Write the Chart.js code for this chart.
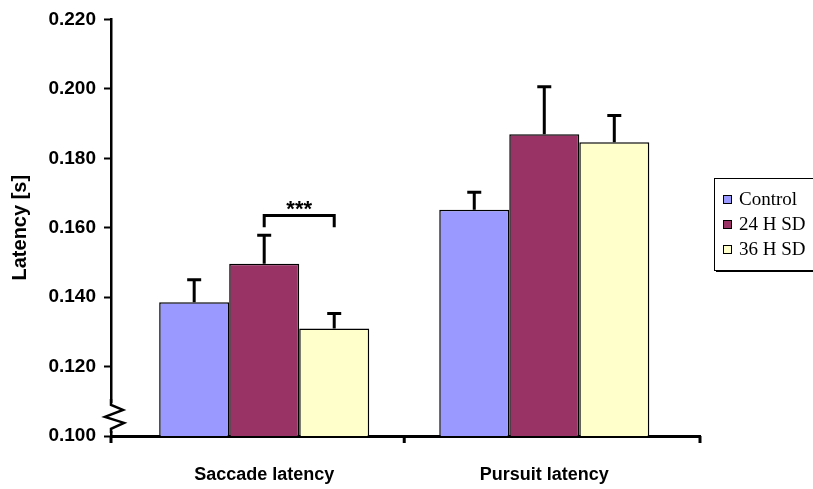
<!DOCTYPE html>
<html lang="en">
<head>
    <meta charset="UTF-8">
    <title>Latency</title>
    <script src="https://cdn.jsdelivr.net/npm/chart.js"></script>
    <style>
        html, body { margin: 0; padding: 0; background: #fff; }
        #wrap { width: 813px; height: 489px; }
    </style>
</head>
<body>
    <div id="wrap"><canvas id="latencyChart" width="813" height="489"></canvas></div>

    <script>
        // Data
        const categories = ['Saccade latency', 'Pursuit latency'];
        const groupNames = ['Control', '24 H SD', '36 H SD'];
        const groupColors = ['#9999FF', '#993366', '#FFFFCC'];
        const controlMean = [0.1385, 0.1652];
        const controlErr = [0.0065, 0.0050];
        const sd24Mean = [0.1496, 0.1869];
        const sd24Err = [0.0082, 0.0137];
        const sd36Mean = [0.1310, 0.1846];
        const sd36Err = [0.0043, 0.0077];
        const yTicks = [0.100, 0.120, 0.140, 0.160, 0.180, 0.200, 0.220];

        const means = [controlMean, sd24Mean, sd36Mean];
        const errors = [controlErr, sd24Err, sd36Err];

        // the original groups sit a little towards the middle of the axis
        const shiftGroups = {
            id: 'shiftGroups',
            afterLayout(chart) {
                const x = chart.scales.x;
                x._startValue = -0.547;
                x._valueRange = 2.103;
            }
        };

        // Error bars, significance bracket, axis break, x ticks and legend
        const extras = {
            id: 'extras',
            afterDatasetsDraw(chart) {
                const ctx = chart.ctx;
                const y = chart.scales.y;
                const x = chart.scales.x;
                const area = chart.chartArea;
                ctx.save();
                ctx.strokeStyle = '#000';
                ctx.lineWidth = 3;
                chart.data.datasets.forEach((ds, i) => {
                    const meta = chart.getDatasetMeta(i);
                    meta.data.forEach((bar, j) => {
                        const top = y.getPixelForValue(ds.data[j] + errors[i][j]);
                        ctx.beginPath();
                        ctx.moveTo(bar.x, bar.y);
                        ctx.lineTo(bar.x, top);
                        ctx.moveTo(bar.x - 7, top);
                        ctx.lineTo(bar.x + 7, top);
                        ctx.stroke();
                    });
                });

                // x axis tick marks: both ends and between the groups
                [area.left, x.getPixelForValue(0.5), area.right].forEach(px => {
                    ctx.beginPath();
                    ctx.moveTo(px, area.bottom);
                    ctx.lineTo(px, area.bottom + 7);
                    ctx.stroke();
                });

                // *** bracket between 24 H SD and 36 H SD on saccade
                const b1 = chart.getDatasetMeta(1).data[0];
                const b2 = chart.getDatasetMeta(2).data[0];
                const by = y.getPixelForValue(0.1635);
                const legY = y.getPixelForValue(0.1601);
                ctx.beginPath();
                ctx.moveTo(b1.x, legY);
                ctx.lineTo(b1.x, by);
                ctx.lineTo(b2.x, by);
                ctx.lineTo(b2.x, legY);
                ctx.stroke();
                ctx.fillStyle = '#000';
                ctx.font = 'bold 22px "Liberation Sans"';
                ctx.textAlign = 'center';
                ctx.textBaseline = 'middle';
                ctx.fillText('***', (b1.x + b2.x) / 2, by - 6);

                // axis break zigzag
                const ax = area.left;
                const zy = y.getPixelForValue(0.1055);
                ctx.fillStyle = '#fff';
                ctx.fillRect(ax - 3, zy - 14, 6, 28);
                ctx.lineWidth = 2.5;
                ctx.beginPath();
                ctx.moveTo(ax, zy - 18);
                ctx.lineTo(ax, zy - 12);
                ctx.lineTo(ax + 12, zy - 7);
                ctx.lineTo(ax - 6, zy);
                ctx.lineTo(ax + 13, zy + 6);
                ctx.lineTo(ax, zy + 12);
                ctx.lineTo(ax, zy + 16);
                ctx.stroke();

                // legend box (runs off the right edge like the original)
                const lx = 714, ly = 178;
                ctx.lineWidth = 1;
                ctx.fillStyle = '#fff';
                ctx.fillRect(lx, ly, 120, 92);
                ctx.strokeRect(lx + 0.5, ly + 0.5, 120, 92);
                ctx.fillStyle = '#000';
                ctx.fillRect(lx + 2, ly + 92, 120, 2);
                ctx.font = '19px "Liberation Serif"';
                ctx.textAlign = 'left';
                ctx.textBaseline = 'middle';
                groupNames.forEach((name, i) => {
                    const iy = ly + 21 + i * 25;
                    ctx.fillStyle = groupColors[i];
                    ctx.fillRect(lx + 9, iy - 4, 9, 9);
                    ctx.strokeRect(lx + 9.5, iy - 3.5, 8, 8);
                    ctx.fillStyle = '#000';
                    ctx.fillText(name, lx + 25, iy + 1);
                });
                ctx.restore();
            }
        };

        new Chart(document.getElementById('latencyChart'), {
            type: 'bar',
            data: {
                labels: categories,
                datasets: groupNames.map((name, i) => ({
                    label: name,
                    data: means[i],
                    backgroundColor: groupColors[i],
                    borderColor: '#000',
                    borderWidth: 1.5,
                    borderSkipped: 'bottom',
                    barPercentage: 1.0,
                    categoryPercentage: 0.75
                }))
            },
            options: {
                responsive: false,
                animation: false,
                layout: { padding: { top: 15, right: 113, left: 0, bottom: 0 } },
                plugins: {
                    legend: { display: false },
                    tooltip: { enabled: false }
                },
                scales: {
                    x: {
                        afterFit: s => { s.height = 53; },
                        grid: { display: false },
                        border: { display: true, color: '#000', width: 3 },
                        ticks: {
                            color: '#000',
                            padding: 20,
                            font: { family: 'Liberation Sans', weight: 'bold', size: 18 }
                        }
                    },
                    y: {
                        min: yTicks[0],
                        max: yTicks[yTicks.length - 1],
                        afterFit: s => { s.width = 111; },
                        afterBuildTicks: s => { s.ticks = yTicks.map(v => ({ value: v })); },
                        grid: {
                            drawOnChartArea: false,
                            drawTicks: true,
                            tickLength: 7,
                            color: '#000',
                            tickWidth: 2
                        },
                        border: { display: true, color: '#000', width: 2.5 },
                        ticks: {
                            color: '#000',
                            padding: 8,
                            callback: v => v.toFixed(3),
                            font: { family: 'Liberation Sans', weight: 'bold', size: 19 }
                        },
                        title: {
                            display: true,
                            text: 'Latency [s]',
                            color: '#000',
                            padding: { top: 8, bottom: 0 },
                            font: { family: 'Liberation Sans', weight: 'bold', size: 20 }
                        }
                    }
                }
            },
            plugins: [shiftGroups, extras]
        });
    </script>
</body>
</html>
